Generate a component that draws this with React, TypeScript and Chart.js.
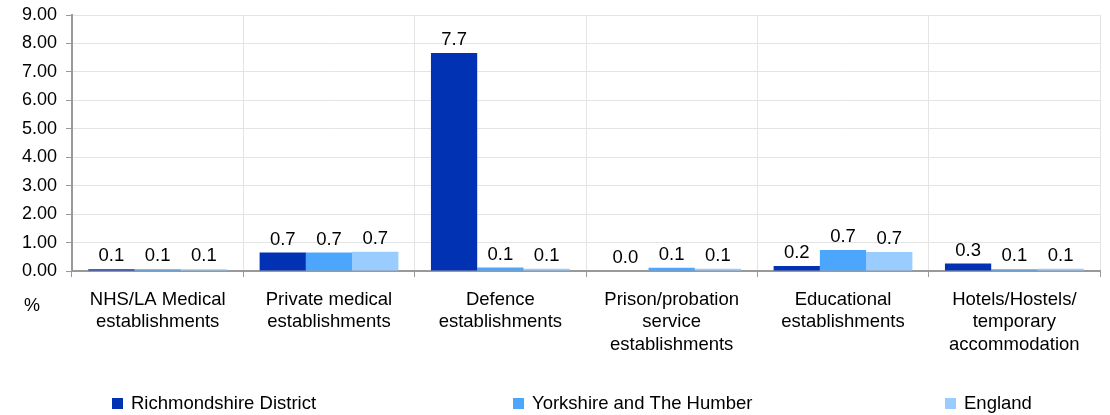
import React, { useEffect, useRef } from "react";
import { Chart, registerables } from "chart.js";

Chart.register(...registerables);

const categories: string[][] = [
  ["NHS/LA Medical", "establishments"],
  ["Private medical", "establishments"],
  ["Defence", "establishments"],
  ["Prison/probation", "service", "establishments"],
  ["Educational", "establishments"],
  ["Hotels/Hostels/", "temporary", "accommodation"],
];
const seriesNames = ["Richmondshire District", "Yorkshire and The Humber", "England"];
const richmondshire = [0.06, 0.65, 7.66, 0.0, 0.18, 0.26];
const yorkshire = [0.06, 0.65, 0.12, 0.11, 0.74, 0.06];
const england = [0.06, 0.68, 0.08, 0.08, 0.67, 0.08];
const yTicks = [0, 1, 2, 3, 4, 5, 6, 7, 8, 9];
const colors = ["#0232b4", "#4ca6fe", "#99ccff"];

const FONT = "'Liberation Sans', Arial, sans-serif";

const labelPlugin = {
  id: "barLabels",
  afterDatasetsDraw(chart: any) {
    const ctx = chart.ctx;
    ctx.save();
    ctx.fillStyle = "#000";
    ctx.font = `18.5px ${FONT}`;
    ctx.textAlign = "center";
    ctx.textBaseline = "alphabetic";
    chart.data.datasets.forEach((ds: any, i: number) => {
      const meta = chart.getDatasetMeta(i);
      meta.data.forEach((bar: any, j: number) => {
        ctx.fillText(Number(ds.data[j]).toFixed(1), bar.x, bar.y - 8);
      });
    });
    // axis unit
    ctx.font = `18px ${FONT}`;
    ctx.textAlign = "left";
    ctx.textBaseline = "middle";
    ctx.fillText("%", 24, 306);
    // legend
    ctx.font = `18.5px ${FONT}`;
    const legendX = [112, 513, 945];
    chart.data.datasets.forEach((ds: any, i: number) => {
      ctx.fillStyle = ds.backgroundColor;
      ctx.fillRect(legendX[i], 398, 11, 11);
      ctx.fillStyle = "#000";
      ctx.fillText(ds.label, legendX[i] + 19, 404);
    });
    ctx.restore();
  },
};

export default function App() {
  const ref = useRef<HTMLCanvasElement | null>(null);
  useEffect(() => {
    document.body.style.margin = "0";
    const datasets = [richmondshire, yorkshire, england].map((d, i) => ({
      label: seriesNames[i],
      data: d,
      backgroundColor: colors[i],
      categoryPercentage: 0.81,
      barPercentage: 1.0,
    }));
    const chart = new Chart(ref.current as HTMLCanvasElement, {
      type: "bar",
      data: { labels: categories, datasets },
      options: {
        animation: false,
        responsive: false,
        layout: { padding: { top: 15, right: 10, left: 0, bottom: 0 } },
        plugins: { legend: { display: false }, tooltip: { enabled: false } },
        scales: {
          y: {
            min: 0,
            max: 9,
            afterBuildTicks(axis: any) {
              axis.ticks = yTicks.map((v) => ({ value: v }));
            },
            afterFit(axis: any) {
              axis.width = 72;
              axis.paddingTop = 0;
              axis.paddingBottom = 0;
            },
            ticks: {
              color: "#000",
              font: { size: 18, family: FONT },
              padding: 9,
              callback: (v: any) => Number(v).toFixed(2),
            },
            grid: { color: "#e4e4e4", tickColor: "#999", tickLength: 6 },
            border: { color: "#999", width: 2 },
          },
          x: {
            afterFit(axis: any) {
              axis.height = 144;
            },
            ticks: {
              color: "#000",
              font: { size: 18.5, family: FONT, lineHeight: 1.2 },
              padding: 12,
              maxRotation: 0,
              autoSkip: false,
            },
            grid: { color: "#e4e4e4", tickColor: "#999", tickLength: 6, offset: true },
            border: { color: "#999", width: 2 },
          },
        },
      },
      plugins: [labelPlugin],
    });
    return () => chart.destroy();
  }, []);
  return <canvas ref={ref} width={1110} height={415} style={{ display: "block" }} />;
}
